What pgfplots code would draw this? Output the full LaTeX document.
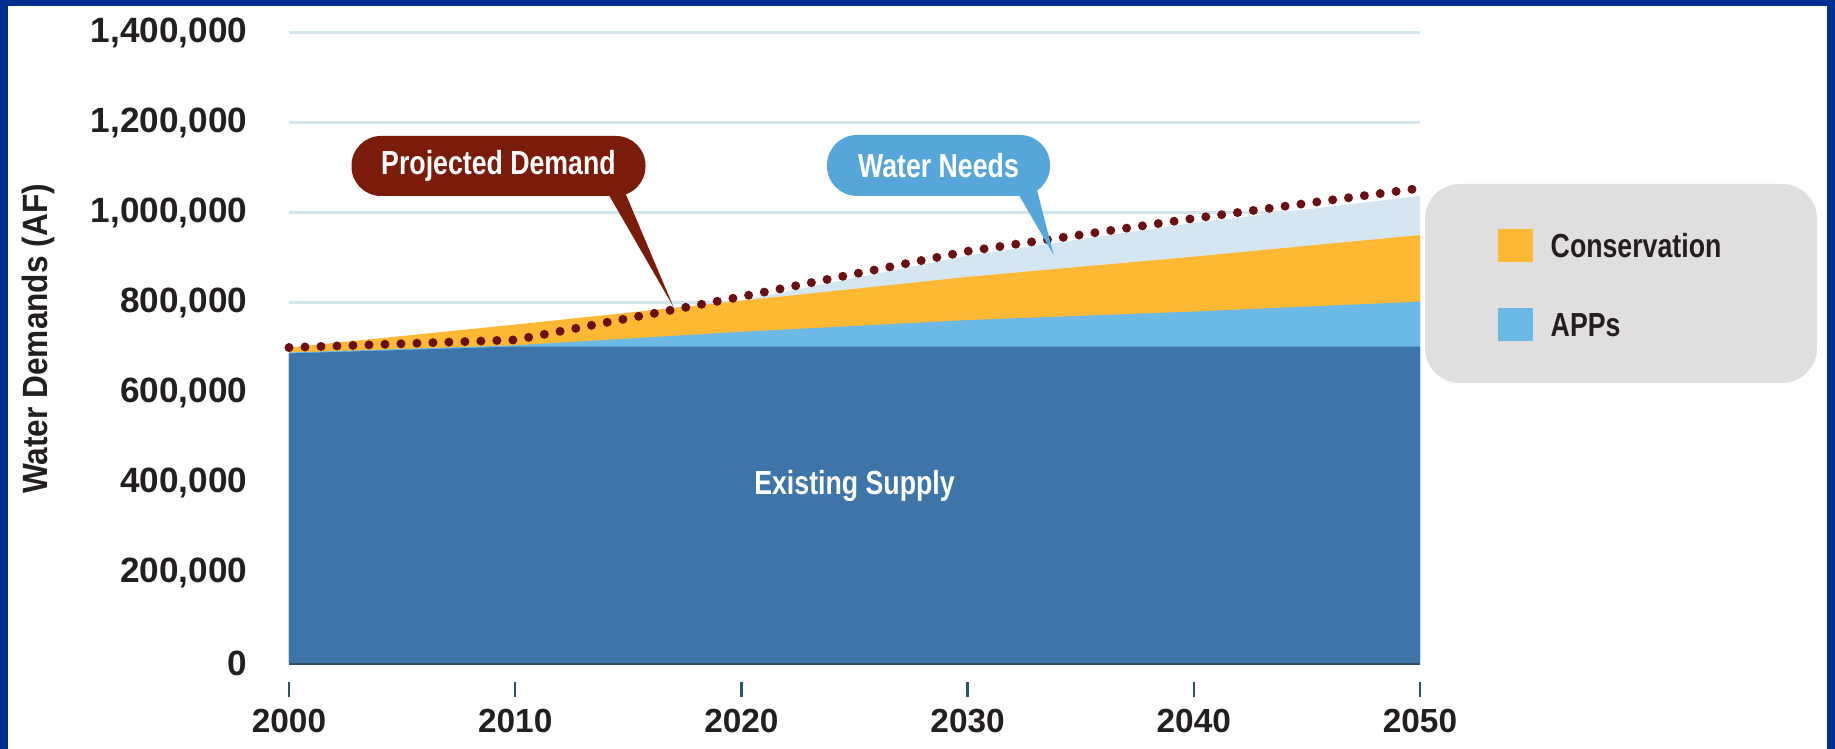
\documentclass[border=0pt]{standalone}
\usepackage{pgfplots}
\pgfplotsset{compat=1.18}
\usepackage{fontspec}
\setmainfont{Liberation Sans}
\newfontfamily\cond{Liberation Sans}[FakeStretch=0.8]
\newfontfamily\semi{Liberation Sans}[FakeStretch=0.9]

\definecolor{framecol}{HTML}{00308F}
\definecolor{darkblue}{HTML}{3D75A8}
\definecolor{appcol}{HTML}{6DB9E6}
\definecolor{conscol}{HTML}{FDB933}
\definecolor{pale}{HTML}{D3E6F1}
\definecolor{dotcol}{HTML}{6B0F12}
\definecolor{pdcol}{HTML}{7B1C0A}
\definecolor{wncol}{HTML}{57A6DA}
\definecolor{legcol}{HTML}{E1DFDE}
\definecolor{gridcol}{HTML}{D2E6EC}
\definecolor{basecol}{HTML}{2F4F5F}
\definecolor{tickcol}{HTML}{2A5566}
\definecolor{textcol}{HTML}{231F20}

\begin{document}
\begin{tikzpicture}
% page and navy frame
\fill[framecol] (0,0) rectangle (183.5mm,-74.9mm);
\fill[white] (0.8mm,-0.6mm) rectangle (182.7mm,-74.9mm);

\begin{axis}[
    at={(28.9mm,-66.3mm)}, anchor=south west,
    width=113.1mm, height=63mm, scale only axis,
    xmin=2000, xmax=2050, ymin=0, ymax=1400000,
    xtick={2000,2010,...,2050},
    ytick={0,200000,...,1400000},
    axis x line=bottom, axis y line=left,
    x axis line style={draw=basecol, line width=0.35mm, -},
    y axis line style={draw=none},
    ymajorgrids,
    grid style={draw=gridcol, line width=0.3mm},
    ytick style={draw=none},
    xtick style={draw=tickcol, line width=0.25mm, yshift=-3.4mm},
    major tick length=1.5mm, tick align=inside,
    scaled y ticks=false,
    /pgf/number format/assume math mode=true,
    yticklabel style={/pgf/number format/fixed, /pgf/number format/1000 sep={,},
        inner sep=0pt, anchor=east, xshift=-4.1mm,
        font=\fontsize{10}{12}\selectfont\bfseries, text=textcol},
    xticklabel style={/pgf/number format/1000 sep={},
        inner sep=0pt, anchor=north, yshift=-4.5mm,
        font=\fontsize{9.5}{11}\selectfont\bfseries, text=textcol},
    clip=false,
]
% Water needs (pale) up to projected demand
\addplot[fill=pale, draw=none] coordinates {
    (2000,690000) (2010,707000) (2020,806000) (2030,905000) (2040,978000) (2050,1038000)
} \closedcycle;
% Conservation
\addplot[fill=conscol, draw=none] coordinates {
    (2000,701000) (2010,752000) (2020,805000) (2030,858000) (2040,903000) (2050,951000)
} \closedcycle;
% APPs
\addplot[fill=appcol, draw=none] coordinates {
    (2000,690000) (2010,706000) (2020,736000) (2030,762000) (2040,781000) (2050,803000)
} \closedcycle;
% Existing supply
\addplot[fill=darkblue, draw=none] coordinates {
    (2000,688000) (2010,703000) (2020,703000) (2030,703000) (2040,703000) (2050,703000)
} \closedcycle;
% Projected demand (dotted)
\addplot[dotcol, line width=0.9mm, line cap=round, dash pattern=on 0pt off 1.6mm] coordinates {
    (2000,701000) (2010,718000) (2020,814000) (2030,915000) (2040,988000) (2050,1055000)
};

\node[text=white, font=\cond\bfseries\fontsize{9.5}{11}\selectfont] at (axis cs:2025,393000) {Existing Supply};
\coordinate (pdtip) at (axis cs:2017,791000);
\coordinate (wntip) at (axis cs:2033.8,907000);
\end{axis}

% callouts
\fill[pdcol] (60.6mm,-19.0mm) -- (pdtip) -- (62.4mm,-19.0mm) -- cycle;
\node[fill=pdcol, rounded corners=2.95mm, minimum width=29.4mm, minimum height=6.0mm,
      inner sep=0pt, text=white, font=\cond\bfseries\fontsize{9.5}{11}\selectfont]
      at (49.85mm,-16.6mm) {Projected Demand};
\fill[wncol] (101.6mm,-19.0mm) -- (wntip) -- (103.7mm,-19.0mm) -- cycle;
\node[fill=wncol, rounded corners=3mm, minimum width=22.3mm, minimum height=6.1mm,
      inner sep=0pt, text=white, font=\cond\bfseries\fontsize{9.5}{11}\selectfont]
      at (93.85mm,-16.55mm) {Water Needs};

% legend panel
\fill[legcol, rounded corners=3.5mm] (142.5mm,-18.4mm) rectangle (181.7mm,-38.3mm);
\fill[conscol] (149.8mm,-22.9mm) rectangle (153.3mm,-26.2mm);
\node[anchor=west, inner sep=0pt, text=textcol, font=\cond\bfseries\fontsize{9.5}{11}\selectfont]
      at (155.0mm,-24.6mm) {Conservation};
\fill[appcol] (149.8mm,-30.8mm) rectangle (153.3mm,-34.1mm);
\node[anchor=west, inner sep=0pt, text=textcol, font=\cond\bfseries\fontsize{9.5}{11}\selectfont]
      at (155.0mm,-32.5mm) {APPs};

% y axis title
\node[rotate=90, inner sep=0pt, text=textcol, font=\semi\bfseries\fontsize{10}{12}\selectfont]
      at (3.8mm,-33.9mm) {Water Demands (AF)};
\end{tikzpicture}
\end{document}
